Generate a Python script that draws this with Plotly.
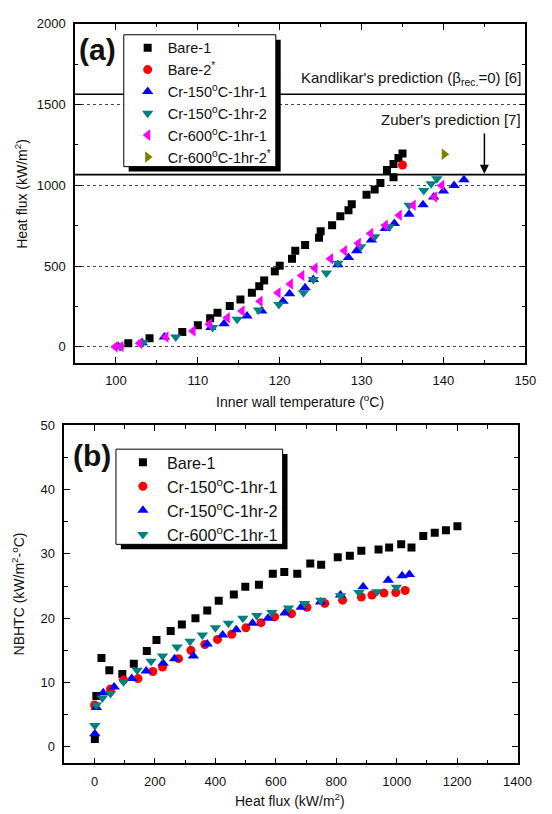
import plotly.graph_objects as go

# ---------------- Panel (a): heat flux vs inner wall temperature ----------------
A_BARE1_T = [101.5, 104.1, 108.1, 110.0, 111.5, 112.4, 113.9, 115.2, 116.6, 117.5, 118.1, 119.4, 120.0, 121.5,
             121.9, 123.1, 124.8, 125.0, 126.4, 127.4, 128.4, 128.8, 130.6, 131.6, 132.3, 133.9, 133.1, 133.9,
             134.5, 135.0]
A_BARE1_Q = [21, 53, 92, 133, 176, 211, 252, 293, 334, 375, 411, 467, 502, 545, 594, 630, 675, 716, 753, 808,
             845, 882, 941, 974, 1015, 1050, 1095, 1132, 1169, 1197]

A_BARE2_T = [135.0]
A_BARE2_Q = [1126]

A_CR150_1_T = [100.3, 103.2, 105.9, 111.6, 113.2, 116.0, 117.8, 120.4, 121.2, 123.1, 124.1, 127.1, 128.4, 129.4,
               131.2, 132.9, 134.0, 135.8, 137.5, 138.8, 140.0, 141.3, 142.5]
A_CR150_1_Q = [0, 25, 61, 119, 143, 190, 221, 282, 328, 365, 416, 508, 553, 595, 661, 733, 764, 821, 880, 927,
               964, 999, 1035]

A_CR150_2_T = [100.5, 103.3, 107.3, 111.8, 114.8, 117.4, 119.9, 122.9, 124.1, 125.7, 127.1, 129.9, 131.6, 133.4,
               135.8, 137.6, 138.5, 139.2]
A_CR150_2_Q = [0, 27, 61, 119, 170, 227, 262, 334, 416, 457, 518, 620, 681, 743, 876, 968, 1009, 1040]

A_CR600_1_T = [99.9, 100.6, 102.9, 106.1, 109.4, 111.4, 113.6, 115.4, 117.6, 119.8, 121.3, 122.7, 124.3, 126.2,
               127.9, 129.6, 131.1, 132.9, 134.6, 136.3, 138.9, 139.8]
A_CR600_1_Q = [0, 2, 21, 61, 98, 139, 180, 221, 282, 334, 389, 442, 487, 545, 594, 641, 702, 753, 815, 876,
               927, 999]

A_CR600_2_T = [140.1]
A_CR600_2_Q = [1193]

KANDLIKAR_CHF = 1564
ZUBER_CHF = 1066

# ---------------- Panel (b): NBHTC vs heat flux ----------------
B_BARE1_Q = [1, 6, 23, 49, 92, 130, 173, 205, 252, 289, 334, 373, 411, 461, 499, 544, 590, 628, 671, 714, 750,
             805, 845, 883, 940, 975, 1015, 1049, 1088, 1126, 1163, 1201]
B_BARE1_H = [1.2, 7.9, 13.8, 11.9, 11.3, 12.9, 14.9, 16.6, 18.0, 19.0, 20.0, 21.2, 22.7, 23.7, 24.9, 25.2, 26.9,
             27.2, 26.9, 28.5, 28.3, 29.5, 29.7, 30.5, 30.7, 31.0, 31.5, 31.0, 32.8, 33.3, 33.7, 34.3]

B_CR150_1_Q = [0, 53, 96, 144, 193, 225, 278, 319, 365, 407, 454, 501, 551, 596, 652, 703, 762, 821, 883, 918,
               958, 997, 1028]
B_CR150_1_H = [6.5, 9.0, 10.4, 10.6, 11.7, 12.4, 13.7, 15.0, 15.9, 16.7, 17.5, 18.5, 19.3, 20.2, 20.7, 21.7,
               22.3, 22.8, 23.3, 23.6, 23.9, 24.0, 24.3]

B_CR150_2_Q = [1, 6, 29, 65, 123, 171, 227, 265, 327, 373, 424, 469, 523, 574, 630, 684, 748, 814, 889, 972,
               1018, 1042]
B_CR150_2_H = [2.0, 6.1, 8.4, 9.3, 10.6, 11.8, 13.0, 13.7, 14.1, 16.0, 17.4, 18.2, 19.2, 20.0, 20.8, 21.7, 22.5,
               23.6, 24.9, 25.9, 26.6, 26.8]

B_CR600_1_Q = [1, 6, 26, 53, 96, 141, 187, 225, 273, 316, 357, 400, 443, 491, 537, 587, 642, 695, 749, 814, 875,
               935, 999]
B_CR600_1_H = [3.3, 6.5, 7.6, 8.3, 10.1, 11.9, 13.3, 14.1, 15.5, 16.4, 17.4, 18.5, 19.2, 20.0, 20.4, 20.9,
               21.6, 22.3, 22.8, 23.5, 24.0, 24.1, 24.8]

# ---------------- figure ----------------
W, H = 552, 814
FONT = "Arial, Liberation Sans, sans-serif"


def px_x(p):
    return p / W


def px_y(p):
    return 1 - p / H


fig = go.Figure()


def add(x, y, name, symbol, color, size, xa, ya, legend):
    fig.add_trace(go.Scatter(
        x=x, y=y, mode="markers", name=name,
        marker=dict(symbol=symbol, color=color, size=size, line=dict(width=0)),
        xaxis=xa, yaxis=ya, legend=legend))


deg = "<sup>o</sup>"
add(A_BARE1_T, A_BARE1_Q, "Bare-1", "square", "#000000", 8, "x", "y", "legend")
add(A_BARE2_T, A_BARE2_Q, "Bare-2<sup>*</sup>", "circle", "#ff0000", 9, "x", "y", "legend")
add(A_CR150_1_T, A_CR150_1_Q, f"Cr-150{deg}C-1hr-1", "triangle-up", "#0000ff", 10, "x", "y", "legend")
add(A_CR150_2_T, A_CR150_2_Q, f"Cr-150{deg}C-1hr-2", "triangle-down", "#008080", 10, "x", "y", "legend")
add(A_CR600_1_T, A_CR600_1_Q, f"Cr-600{deg}C-1hr-1", "triangle-left", "#ff00ff", 10, "x", "y", "legend")
add(A_CR600_2_T, A_CR600_2_Q, f"Cr-600{deg}C-1hr-2<sup>*</sup>", "triangle-right", "#808000", 10, "x", "y", "legend")

add(B_BARE1_Q, B_BARE1_H, "Bare-1", "square", "#000000", 8, "x2", "y2", "legend2")
add(B_CR150_1_Q, B_CR150_1_H, f"Cr-150{deg}C-1hr-1", "circle", "#ff0000", 9, "x2", "y2", "legend2")
add(B_CR150_2_Q, B_CR150_2_H, f"Cr-150{deg}C-1hr-2", "triangle-up", "#0000ff", 10, "x2", "y2", "legend2")
add(B_CR600_1_Q, B_CR600_1_H, f"Cr-600{deg}C-1hr-1", "triangle-down", "#008080", 10, "x2", "y2", "legend2")

axis_common = dict(
    showline=True, linecolor="#000000", linewidth=1.6, mirror="allticks",
    ticks="inside", ticklen=6, tickwidth=1.3, tickcolor="#000000",
    tickfont=dict(family=FONT, size=13, color="#111111"),
    zeroline=False, ticklabelstandoff=5,
)

fig.update_layout(
    width=W, height=H, margin=dict(l=0, r=0, t=0, b=0),
    paper_bgcolor="white", plot_bgcolor="white",
    font=dict(family=FONT, color="#111111"),
    xaxis=dict(domain=[px_x(77), px_x(539)], range=[95, 150], dtick=10, anchor="y",
               showgrid=False,
               minor=dict(dtick=5, ticks="inside", ticklen=3.5, tickwidth=1.2, tickcolor="#000000", showgrid=False),
               **axis_common),
    yaxis=dict(domain=[px_y(359), px_y(17)], range=[-100, 2000], dtick=500, anchor="x",
               showgrid=True, gridcolor="#444444", griddash="dot", gridwidth=1,
               minor=dict(dtick=250, ticks="inside", ticklen=3.5, tickwidth=1.2, tickcolor="#000000", showgrid=False),
               **axis_common),
    xaxis2=dict(domain=[px_x(66), px_x(531)], range=[-100, 1400], tick0=0, dtick=200, anchor="y2",
                showgrid=False,
                minor=dict(dtick=100, ticks="inside", ticklen=3.5, tickwidth=1.2, tickcolor="#000000", showgrid=False),
                **axis_common),
    yaxis2=dict(domain=[px_y(763), px_y(422)], range=[-2.6, 50], dtick=10, anchor="x2",
                showgrid=False,
                minor=dict(dtick=5, ticks="inside", ticklen=3.5, tickwidth=1.2, tickcolor="#000000", showgrid=False),
                **axis_common),
    legend=dict(x=px_x(131), y=px_y(25), xanchor="left", yanchor="top",
                bgcolor="rgba(0,0,0,0)", borderwidth=0, itemwidth=30,
                font=dict(family=FONT, size=14.5, color="#111111")),
    legend2=dict(x=px_x(122), y=px_y(442), xanchor="left", yanchor="top",
                 bgcolor="rgba(0,0,0,0)", borderwidth=0, itemwidth=38,
                 font=dict(family=FONT, size=16.2, color="#111111")),
)

# reference lines (CHF predictions)
for yv in (KANDLIKAR_CHF, ZUBER_CHF):
    fig.add_shape(type="line", xref="x", yref="y", x0=95, x1=150, y0=yv, y1=yv,
                  line=dict(color="#000000", width=1.6), layer="between")


# legend boxes with drop shadows
def legend_box(l, t, r, b, off=5):
    fig.add_shape(type="rect", xref="paper", yref="paper",
                  x0=px_x(l + off), x1=px_x(r + off), y0=px_y(b + off), y1=px_y(t + off),
                  fillcolor="#000000", line=dict(width=0), layer="above")
    fig.add_shape(type="rect", xref="paper", yref="paper",
                  x0=px_x(l), x1=px_x(r), y0=px_y(b), y1=px_y(t),
                  fillcolor="#ffffff", line=dict(color="#000000", width=1), layer="above")


legend_box(127, 28, 283, 161)
legend_box(119, 446, 290, 542)

ann_font = dict(family=FONT, size=15, color="#111111")
fig.add_annotation(x=149.7, y=1662, xref="x", yref="y", xanchor="right", yanchor="middle",
                   text="Kandlikar's prediction (β<sub>rec.</sub>=0) [6]", showarrow=False, font=ann_font)
fig.add_annotation(x=149.7, y=1409, xref="x", yref="y", xanchor="right", yanchor="middle",
                   text="Zuber's prediction [7]", showarrow=False, font=ann_font)
fig.add_annotation(x=145, y=ZUBER_CHF + 5, ax=145, ay=1330, xref="x", yref="y", axref="x", ayref="y",
                   text="", showarrow=True, arrowhead=2, arrowsize=1.2, arrowwidth=1.5, arrowcolor="#000000")

# panel labels
fig.add_annotation(x=px_x(79), y=px_y(43), xref="paper", yref="paper", xanchor="left", yanchor="middle",
                   text="<b>(a)</b>", showarrow=False, font=dict(family=FONT, size=30, color="#111111"))
fig.add_annotation(x=px_x(73), y=px_y(452), xref="paper", yref="paper", xanchor="left", yanchor="middle",
                   text="<b>(b)</b>", showarrow=False, font=dict(family=FONT, size=30, color="#111111"))

# axis titles
title_font = dict(family=FONT, size=14, color="#111111")
fig.add_annotation(x=px_x(308), y=px_y(397), xref="paper", yref="paper", xanchor="center", yanchor="middle",
                   text=f"Inner wall temperature ({deg}C)", showarrow=False, font=title_font)
fig.add_annotation(x=px_x(22), y=px_y(188), xref="paper", yref="paper", xanchor="center", yanchor="middle",
                   text="Heat flux (kW/m<sup>2</sup>)", textangle=-90, showarrow=False, font=title_font)
fig.add_annotation(x=px_x(298), y=px_y(800), xref="paper", yref="paper", xanchor="center", yanchor="middle",
                   text="Heat flux (kW/m<sup>2</sup>)", showarrow=False, font=title_font)
fig.add_annotation(x=px_x(18), y=px_y(592), xref="paper", yref="paper", xanchor="center", yanchor="middle",
                   text=f"NBHTC (kW/m<sup>2</sup>-{deg}C)", textangle=-90, showarrow=False, font=title_font)

fig.write_html(
    "out.html",
    config={"displayModeBar": False},
    post_script="document.body.style.margin='0';document.body.style.overflow='hidden';",
)
